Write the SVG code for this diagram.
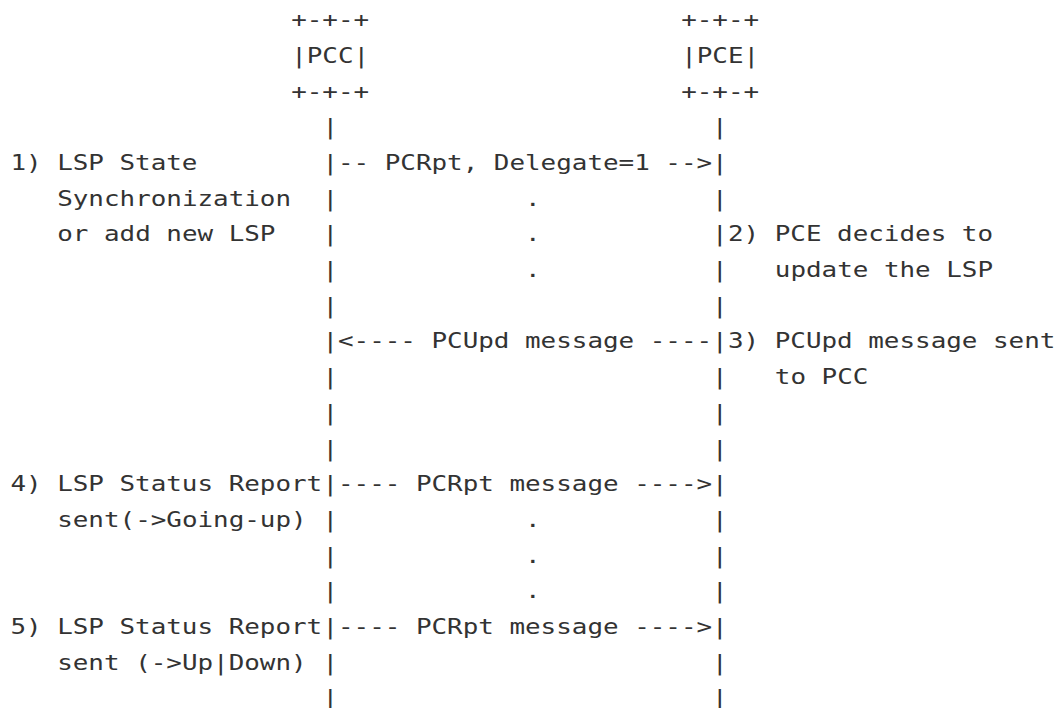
<svg xmlns="http://www.w3.org/2000/svg" width="1058" height="708" viewBox="0 0 1058 708">
  <style>
    text { font-family: "DejaVu Sans Mono", "Liberation Mono", monospace; font-size: 22px; fill: #333333; white-space: pre; }
  </style>
  <rect width="1058" height="708" fill="#ffffff"/>
  <!-- monospace grid, widened horizontally: column c at x = 13.244*c inside the scaled frame;
       row n baseline at 27.2 + 35.7*(n-1) -->
  <g id="chart" transform="translate(10.4,0) scale(1.1779,1)">
    <g id="node-pcc">
      <text x="238.392" y="27.2">+-+-+</text>
      <text x="238.392" y="62.9">|PCC|</text>
      <text x="238.392" y="98.6">+-+-+</text>
    </g>
    <g id="node-pce">
      <text x="569.492" y="27.2">+-+-+</text>
      <text x="569.492" y="62.9">|PCE|</text>
      <text x="569.492" y="98.6">+-+-+</text>
    </g>
    <g id="connectors">
      <text x="264.88" y="134.3">|                        |</text>
      <text x="264.88" y="170">|-- PCRpt, Delegate=1 --&gt;|</text>
      <text x="264.88" y="205.7">|            .           |</text>
      <text x="264.88" y="241.4">|            .           |</text>
      <text x="264.88" y="277.1">|            .           |</text>
      <text x="264.88" y="312.8">|                        |</text>
      <text x="264.88" y="348.5">|&lt;---- PCUpd message ----|</text>
      <text x="264.88" y="384.2">|                        |</text>
      <text x="264.88" y="419.9">|                        |</text>
      <text x="264.88" y="455.6">|                        |</text>
      <text x="264.88" y="491.3">|---- PCRpt message ----&gt;|</text>
      <text x="264.88" y="527">|            .           |</text>
      <text x="264.88" y="562.7">|            .           |</text>
      <text x="264.88" y="598.4">|            .           |</text>
      <text x="264.88" y="634.1">|---- PCRpt message ----&gt;|</text>
      <text x="264.88" y="669.8">|                        |</text>
      <text x="264.88" y="705.5">|                        |</text>
    </g>
    <g id="step-1">
      <text x="0" y="170">1) LSP State</text>
      <text x="39.732" y="205.7">Synchronization</text>
      <text x="39.732" y="241.4">or add new LSP</text>
    </g>
    <g id="step-2">
      <text x="609.224" y="241.4">2) PCE decides to</text>
      <text x="648.956" y="277.1">update the LSP</text>
    </g>
    <g id="step-3">
      <text x="609.224" y="348.5">3) PCUpd message sent</text>
      <text x="648.956" y="384.2">to PCC</text>
    </g>
    <g id="step-4">
      <text x="0" y="491.3">4) LSP Status Report</text>
      <text x="39.732" y="527">sent(-&gt;Going-up)</text>
    </g>
    <g id="step-5">
      <text x="0" y="634.1">5) LSP Status Report</text>
      <text x="39.732" y="669.8">sent (-&gt;Up|Down)</text>
    </g>
  </g>
</svg>
